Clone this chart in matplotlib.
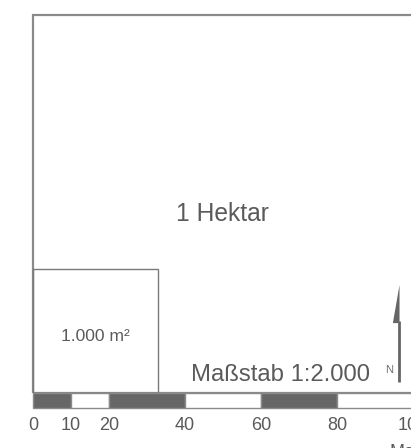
import matplotlib
matplotlib.use('Agg')
import matplotlib.pyplot as plt
from matplotlib.patches import Rectangle, Polygon

plt.rcParams['font.family'] = ['Liberation Sans', 'DejaVu Sans']

# Flächen (Meter)
hektar_seite = 100
klein_seite = 32.8
hektar_label = "1 Hektar"
klein_label = "1.000 m²"

# Maßstabsleiste
scale_breaks = [0, 10, 20, 40, 60, 80, 100]
scale_dark = [True, False, True, False, True, False]
scale_labels = ["0", "10", "20", "40", "60", "80", "100"]
scale_title = "Maßstab 1:2.000"
unit = "Meter"

text_col = "#5a5a5a"
dark = "#666666"

fig = plt.figure(figsize=(4.11, 4.48), dpi=100)
ax = fig.add_axes([0, 0, 1, 1])
ax.set_xlim(-8.68, 99.47)
ax.set_ylim(-14.55, 104.0)
ax.axis('off')

# 1 Hektar
ax.add_patch(Rectangle((0, 0), hektar_seite, hektar_seite, fill=False,
                       edgecolor="#8a8a8a", linewidth=1.6))
ax.text(hektar_seite / 2 - 0.2, 45.5, hektar_label, ha='center', va='baseline',
        fontsize=17.7, color=text_col)

# 1.000 m²
ax.add_patch(Rectangle((0, 0), klein_seite, klein_seite, fill=False,
                       edgecolor="#7a7a7a", linewidth=1.0))
ax.text(klein_seite / 2, 13.76, klein_label, ha='center', va='baseline',
        fontsize=12.6, color=text_col)

# Maßstabsleiste
bar_h = 3.85
for i in range(len(scale_dark)):
    x0, x1 = scale_breaks[i], scale_breaks[i + 1]
    ax.add_patch(Rectangle((x0, -bar_h), x1 - x0, bar_h,
                           facecolor=dark if scale_dark[i] else "white",
                           edgecolor="#8a8a8a", linewidth=1.0))
for x, lab in zip(scale_breaks, scale_labels):
    ax.text(x, -9.79, lab, ha='center', va='baseline', fontsize=13, color=text_col)
ax.text(93.9, -13.5, unit, ha='left', va='top', fontsize=13, color=text_col)
ax.text(88.6, 3.17, scale_title, ha='right', va='baseline', fontsize=17.2, color=text_col)

# Nordpfeil
ax.plot([96.2, 96.2], [2.9, 19.0], color=dark, linewidth=2, solid_capstyle='butt')
ax.add_patch(Polygon([[96.45, 28.6], [94.7, 18.5], [96.45, 18.5]], closed=True,
                     facecolor=dark, edgecolor='none'))
ax.text(93.6, 6.0, "N", ha='center', va='center', fontsize=8, color="#707070")

fig.savefig("out.png", dpi=100)
